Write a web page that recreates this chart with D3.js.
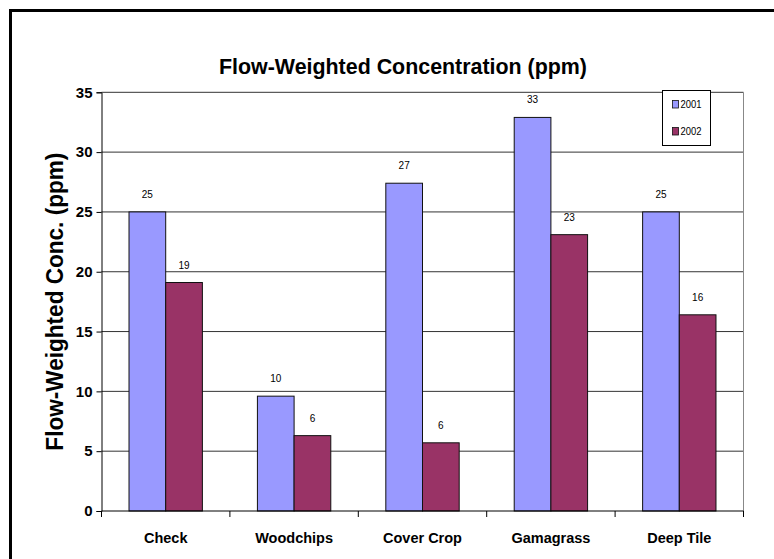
<!DOCTYPE html>
<html>
<head>
<meta charset="utf-8">
<script src="https://cdn.jsdelivr.net/npm/d3@7"></script>
<style>
  html, body { margin: 0; padding: 0; background: #fff; }
  svg { display: block; font-family: "Liberation Sans", Arial, sans-serif; }
</style>
</head>
<body>
<svg id="chart" width="774" height="559"></svg>
<script>
// Flow-weighted concentration by treatment, two monitoring years
const categories = ["Check", "Woodchips", "Cover Crop", "Gamagrass", "Deep Tile"];
const seriesNames = ["2001", "2002"];
const values2001 = [25.0, 9.6, 27.4, 32.9, 25.0];
const values2002 = [19.1, 6.3, 5.7, 23.1, 16.4];
const yTicks = [0, 5, 10, 15, 20, 25, 30, 35];
const seriesColors = ["#9999FF", "#993366"];

const titleText = "Flow-Weighted Concentration (ppm)";
const yTitleText = "Flow-Weighted Conc. (ppm)";

const rows = categories.map((c, i) => ({
  category: c,
  items: [
    { series: seriesNames[0], value: values2001[i] },
    { series: seriesNames[1], value: values2002[i] }
  ]
}));

const svg = d3.select("#chart");
const plot = { left: 101.5, right: 743.5, top: 92.3, bottom: 511 };

// outer frame
svg.append("rect")
  .attr("x", 10.5).attr("y", 10.5)
  .attr("width", 800).attr("height", 600)
  .attr("fill", "none").attr("stroke", "#000").attr("stroke-width", 3);

const x = d3.scaleBand().domain(categories).range([plot.left, plot.right]).paddingInner(0).paddingOuter(0);
const xs = d3.scaleBand().domain(seriesNames).range([0, x.bandwidth()]).paddingInner(0).paddingOuter(0.75);
const y = d3.scaleLinear().domain([0, 35]).range([plot.bottom, plot.top]);
const color = d3.scaleOrdinal().domain(seriesNames).range(seriesColors);

// horizontal gridlines
svg.append("g")
  .selectAll("line")
  .data(yTicks.filter(t => t > 0))
  .join("line")
  .attr("x1", plot.left).attr("x2", plot.right)
  .attr("y1", d => y(d)).attr("y2", d => y(d))
  .attr("stroke", "#333").attr("stroke-width", 1);

// right edge of plot area
svg.append("line")
  .attr("x1", plot.right).attr("x2", plot.right)
  .attr("y1", plot.top).attr("y2", plot.bottom)
  .attr("stroke", "#888").attr("stroke-width", 1);

// bars
const groups = svg.append("g")
  .selectAll("g")
  .data(rows)
  .join("g")
  .attr("transform", d => `translate(${x(d.category)},0)`);

groups.selectAll("rect")
  .data(d => d.items)
  .join("rect")
  .attr("x", d => xs(d.series))
  .attr("width", xs.bandwidth())
  .attr("y", d => y(d.value))
  .attr("height", d => y(0) - y(d.value))
  .attr("fill", d => color(d.series))
  .attr("stroke", "#111")
  .attr("stroke-width", 1);

// value labels
groups.selectAll("text")
  .data(d => d.items)
  .join("text")
  .attr("x", d => xs(d.series) + xs.bandwidth() / 2)
  .attr("y", d => y(d.value) - 14)
  .attr("text-anchor", "middle")
  .attr("font-size", 10)
  .attr("fill", "#000")
  .text(d => d3.format(".0f")(d.value));

// y axis
const yAxis = svg.append("g")
  .attr("transform", `translate(${plot.left},0)`)
  .call(d3.axisLeft(y).tickValues(yTicks).tickSize(5).tickPadding(4).tickFormat(d3.format("d")));
yAxis.select(".domain").attr("stroke", "#000");
yAxis.selectAll(".tick line").attr("stroke", "#000");
yAxis.selectAll(".tick text")
  .attr("font-family", "Liberation Sans, Arial, sans-serif")
  .attr("font-size", 15).attr("font-weight", "bold").attr("fill", "#000");

// x axis with ticks at category boundaries
const xAxis = svg.append("g")
  .attr("transform", `translate(0,${plot.bottom})`);
xAxis.append("line")
  .attr("x1", plot.left).attr("x2", plot.right)
  .attr("y1", 0).attr("y2", 0)
  .attr("stroke", "#000");
const boundaries = categories.map(c => x(c)).concat([x(categories[categories.length - 1]) + x.bandwidth()]);
xAxis.selectAll("line.tickmark")
  .data(boundaries)
  .join("line")
  .attr("class", "tickmark")
  .attr("x1", d => d).attr("x2", d => d)
  .attr("y1", 0).attr("y2", 6)
  .attr("stroke", "#000");
xAxis.selectAll("text")
  .data(categories)
  .join("text")
  .attr("x", d => x(d) + x.bandwidth() / 2)
  .attr("y", 31.5)
  .attr("text-anchor", "middle")
  .attr("font-size", 14.5).attr("font-weight", "bold")
  .attr("fill", "#000")
  .text(d => d);

// chart title
svg.append("text")
  .attr("x", 403).attr("y", 74)
  .attr("text-anchor", "middle")
  .attr("font-size", 22).attr("font-weight", "bold")
  .attr("textLength", 368).attr("lengthAdjust", "spacingAndGlyphs")
  .attr("fill", "#000")
  .text(titleText);

// y axis title
svg.append("text")
  .attr("transform", `translate(63,${(plot.top + plot.bottom) / 2}) rotate(-90)`)
  .attr("text-anchor", "middle")
  .attr("font-size", 23).attr("font-weight", "bold")
  .attr("textLength", 298).attr("lengthAdjust", "spacingAndGlyphs")
  .attr("fill", "#000")
  .text(yTitleText);

// legend
const legend = svg.append("g").attr("transform", "translate(662.5,90.5)");
legend.append("rect")
  .attr("width", 48).attr("height", 55)
  .attr("fill", "#fff").attr("stroke", "#000").attr("stroke-width", 1);
const legendItems = legend.selectAll("g")
  .data(seriesNames)
  .join("g")
  .attr("transform", (d, i) => `translate(10,${10 + i * 27})`);
legendItems.append("rect")
  .attr("width", 6).attr("height", 7.5)
  .attr("fill", d => color(d))
  .attr("stroke", "#111").attr("stroke-width", 0.8);
legendItems.append("text")
  .attr("x", 8).attr("y", 7.5)
  .attr("font-size", 10.5)
  .attr("textLength", 21).attr("lengthAdjust", "spacingAndGlyphs")
  .attr("fill", "#000")
  .text(d => d);
</script>
</body>
</html>
